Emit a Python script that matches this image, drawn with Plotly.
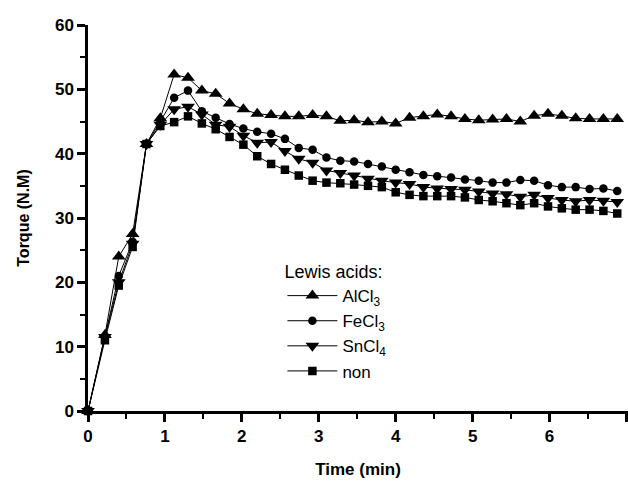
import plotly.graph_objects as go

# Sampling times (min)
time_min = [0, 0.22, 0.40, 0.58, 0.76, 0.94, 1.12, 1.30, 1.48, 1.66, 1.84, 2.02, 2.20,
            2.38, 2.56, 2.74, 2.92, 3.10, 3.28, 3.46, 3.64, 3.82, 4.00, 4.18, 4.36,
            4.54, 4.72, 4.90, 5.08, 5.26, 5.44, 5.62, 5.80, 5.98, 6.16, 6.34, 6.52,
            6.70, 6.88]

# Torque (N.M) for each Lewis acid
torque_alcl3 = [0, 11.8, 24.0, 27.5, 41.5, 45.5, 52.3, 51.8, 49.8, 49.3, 47.8, 46.9, 46.2,
                46.0, 45.8, 45.8, 46.0, 45.8, 45.1, 45.2, 44.9, 45.0, 44.7, 45.6, 45.8,
                46.1, 45.8, 45.4, 45.2, 45.3, 45.4, 45.0, 45.9, 46.2, 45.9, 45.5, 45.4,
                45.4, 45.4]
torque_fecl3 = [0, 11.5, 21.0, 26.3, 41.5, 45.0, 48.7, 49.8, 46.6, 45.6, 44.6, 43.9, 43.4,
                43.1, 42.3, 40.9, 40.6, 39.4, 38.9, 38.8, 38.4, 38.0, 37.5, 37.1, 36.7,
                36.5, 36.3, 36.0, 35.8, 35.5, 35.5, 35.9, 35.8, 35.1, 34.8, 34.8, 34.5,
                34.6, 34.2]
torque_sncl4 = [0, 11.5, 20.0, 26.0, 41.5, 44.5, 46.9, 47.3, 46.1, 44.5, 44.2, 42.8, 41.7,
                41.8, 40.4, 39.2, 38.6, 37.4, 37.0, 36.6, 36.1, 35.8, 35.5, 35.3, 34.8,
                34.6, 34.5, 34.4, 34.1, 33.8, 33.7, 33.3, 33.6, 33.1, 32.8, 32.6, 32.8,
                32.7, 32.5]
torque_non = [0, 11.0, 19.5, 25.5, 41.5, 44.3, 44.9, 45.8, 44.7, 43.8, 42.6, 41.4, 39.6,
              38.4, 37.5, 36.6, 35.8, 35.5, 35.4, 35.2, 35.0, 34.8, 34.0, 33.6, 33.4,
              33.4, 33.4, 33.2, 32.8, 32.6, 32.3, 32.0, 32.3, 31.8, 31.5, 31.3, 31.3,
              31.1, 30.7]

series = [
    ("AlCl<sub>3</sub>", torque_alcl3, "triangle-up", 12),
    ("FeCl<sub>3</sub>", torque_fecl3, "circle", 8.5),
    ("SnCl<sub>4</sub>", torque_sncl4, "triangle-down", 12),
    ("non", torque_non, "square", 8.5),
]

fig = go.Figure()
for name, values, symbol, size in series:
    fig.add_trace(go.Scatter(
        x=time_min, y=values, name=name, mode="lines+markers",
        line=dict(color="black", width=1),
        marker=dict(symbol=symbol, size=size, color="black"),
        cliponaxis=False,
    ))

sans = "Liberation Sans, Arial, sans-serif"
axis_font = dict(family=sans, size=17, color="black", weight="bold")

fig.update_layout(
    width=628, height=487,
    margin=dict(l=88, r=0, t=25, b=76),
    paper_bgcolor="white", plot_bgcolor="white",
    showlegend=True,
    legend=dict(
        x=0.36, y=0.405, xanchor="left", yanchor="top",
        bgcolor="rgba(0,0,0,0)",
        font=dict(family=sans, size=17, color="black"),
        title=dict(text="Lewis acids:", font=dict(family=sans, size=18, color="black")),
        itemwidth=50,
        tracegroupgap=0,
    ),
    xaxis=dict(
        range=[0, 7.02], tickmode="linear", tick0=0, dtick=1,
        ticks="outside", ticklen=8, tickwidth=2.5, tickcolor="black",
        showline=True, linewidth=2.5, linecolor="black",
        showgrid=False, zeroline=False,
        tickfont=axis_font,
        minor=dict(dtick=0.5, ticks="outside", ticklen=5, tickwidth=2, tickcolor="black"),
        title=dict(text="Time (min)", font=dict(family=sans, size=17, color="black",
                                                weight="bold"),
                   standoff=18),
    ),
    yaxis=dict(
        range=[0, 60], tickmode="linear", tick0=0, dtick=10,
        ticks="outside", ticklen=8, tickwidth=2.5, tickcolor="black",
        showline=True, linewidth=2.5, linecolor="black",
        showgrid=False, zeroline=False,
        tickfont=axis_font,
        minor=dict(dtick=5, ticks="outside", ticklen=5, tickwidth=2, tickcolor="black"),
        title=dict(text="Torque (N.M)", font=dict(family=sans, size=16, color="black",
                                                  weight="bold"),
                   standoff=22),
    ),
)

fig.write_html("out.html")
